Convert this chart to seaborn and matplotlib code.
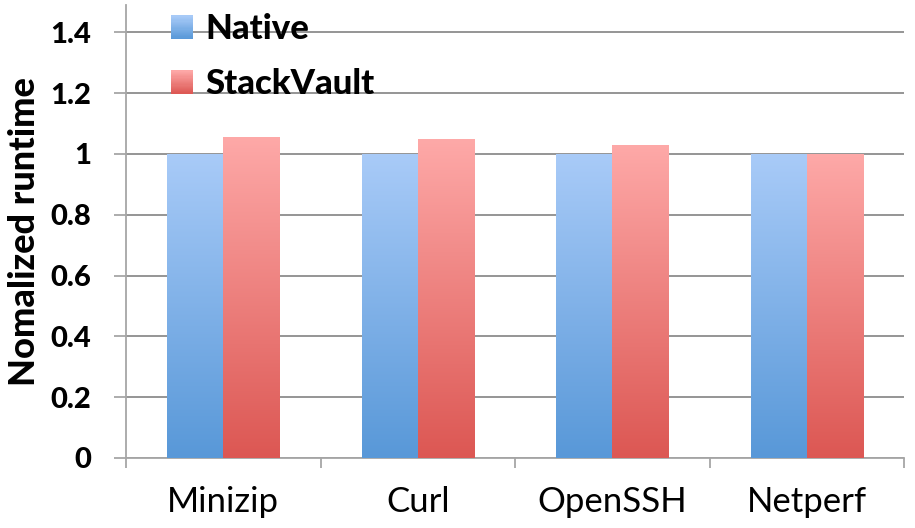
import numpy as np
import pandas as pd
import matplotlib
matplotlib.use("Agg")
import matplotlib.pyplot as plt
import seaborn as sns
from matplotlib.colors import LinearSegmentedColormap
from matplotlib.legend_handler import HandlerBase
from matplotlib.patches import Rectangle

categories = ["Minizip", "Curl", "OpenSSH", "Netperf"]
native = [1.0, 1.0, 1.0, 1.0]
stackvault = [1.056, 1.048, 1.031, 1.0]
series_names = ["Native", "StackVault"]
ytick_vals = [0, 0.2, 0.4, 0.6, 0.8, 1.0, 1.2, 1.4]
ytick_labels = ["0", "0.2", "0.4", "0.6", "0.8", "1", "1.2", "1.4"]

# gradient colors (top, bottom)
grads = {
    "Native": ("#a9cbf8", "#5898d8"),
    "StackVault": ("#fea9a8", "#dc5753"),
}

df = pd.DataFrame({
    "cat": categories * 2,
    "series": [series_names[0]] * 4 + [series_names[1]] * 4,
    "val": native + stackvault,
})

sns.set_theme(style="white")
plt.rcParams["font.family"] = ["Lato", "DejaVu Sans"]
plt.rcParams.update({"text.color": "black", "axes.labelcolor": "black",
                     "xtick.labelcolor": "black", "ytick.labelcolor": "black"})

fig = plt.figure(figsize=(9.15, 5.28), dpi=100)
ax = fig.add_axes([126 / 915, 1 - 458 / 528, (904 - 126) / 915, (458 - 5) / 528])

sns.barplot(data=df, x="cat", y="val", hue="series", ax=ax, width=0.576,
            palette=[grads[s][1] for s in series_names], legend=False,
            edgecolor="none", linewidth=0, saturation=1)

grad = np.linspace(0, 1, 256).reshape(-1, 1)
for cont, name in zip(ax.containers, series_names):
    top, bot = grads[name]
    cmap = LinearSegmentedColormap.from_list(name, [bot, top])
    for patch in cont.patches:
        x0, y0 = patch.get_x(), patch.get_y()
        w, h = patch.get_width(), patch.get_height()
        im = ax.imshow(grad, extent=[x0, x0 + w, y0, y0 + h], origin="lower",
                       aspect="auto", cmap=cmap, zorder=3)
        im.set_clip_path(patch)
        patch.set_facecolor("none")

ax.set_xlim(-0.5, 3.5)
ax.set_ylim(0, 1.49)
ax.set_yticks(ytick_vals)
ax.set_yticklabels(ytick_labels, fontsize=21, fontweight=900, color="black")
ax.yaxis.grid(True, color="#8c8c8c", linewidth=1.3)
ax.set_axisbelow(True)

for s in ["top", "right"]:
    ax.spines[s].set_visible(False)
for s in ["left", "bottom"]:
    ax.spines[s].set_color("#a6a6a6")
    ax.spines[s].set_linewidth(1.3)

ax.tick_params(axis="y", which="major", length=9, width=1.3, color="#a6a6a6",
               pad=16, left=True, direction="out")
ax.set_xticks(range(len(categories)))
ax.set_xticklabels(categories, fontsize=25, color="black")
ax.set_xticks(np.arange(-0.5, 4, 1), minor=True)
ax.tick_params(axis="x", which="major", length=0, pad=20)
ax.tick_params(axis="x", which="minor", length=7, width=1.3, color="#a6a6a6",
               bottom=True, direction="out")
ax.set_xlabel("")
ax.set_ylabel("Nomalized runtime", fontsize=26, fontweight=900, labelpad=7,
              color="black")


class GradHandler(HandlerBase):
    def __init__(self, top, bot):
        super().__init__()
        self.top, self.bot = top, bot

    def create_artists(self, legend, orig_handle, xdescent, ydescent, width,
                       height, fontsize, trans):
        cmap = LinearSegmentedColormap.from_list("g", [self.bot, self.top])
        n = 20
        arts = []
        for i in range(n):
            r = Rectangle((-xdescent, -ydescent + height * i / n), width,
                          height / n + 0.3, facecolor=cmap((i + 0.5) / n),
                          edgecolor="none", transform=trans)
            arts.append(r)
        return arts


handles = [Rectangle((0, 0), 1, 1) for _ in series_names]
hmap = {h: GradHandler(*grads[n]) for h, n in zip(handles, series_names)}
leg = ax.legend(handles, series_names, handler_map=hmap, loc="upper left",
                bbox_to_anchor=(0.04, 1.012), frameon=False,
                prop={"family": ["Lato", "DejaVu Sans"], "weight": 900, "size": 25},
                handlelength=0.64, handleheight=0.64, handletextpad=0.35,
                labelspacing=0.66, borderaxespad=0, labelcolor="black")

fig.savefig("out.png", dpi=100)
